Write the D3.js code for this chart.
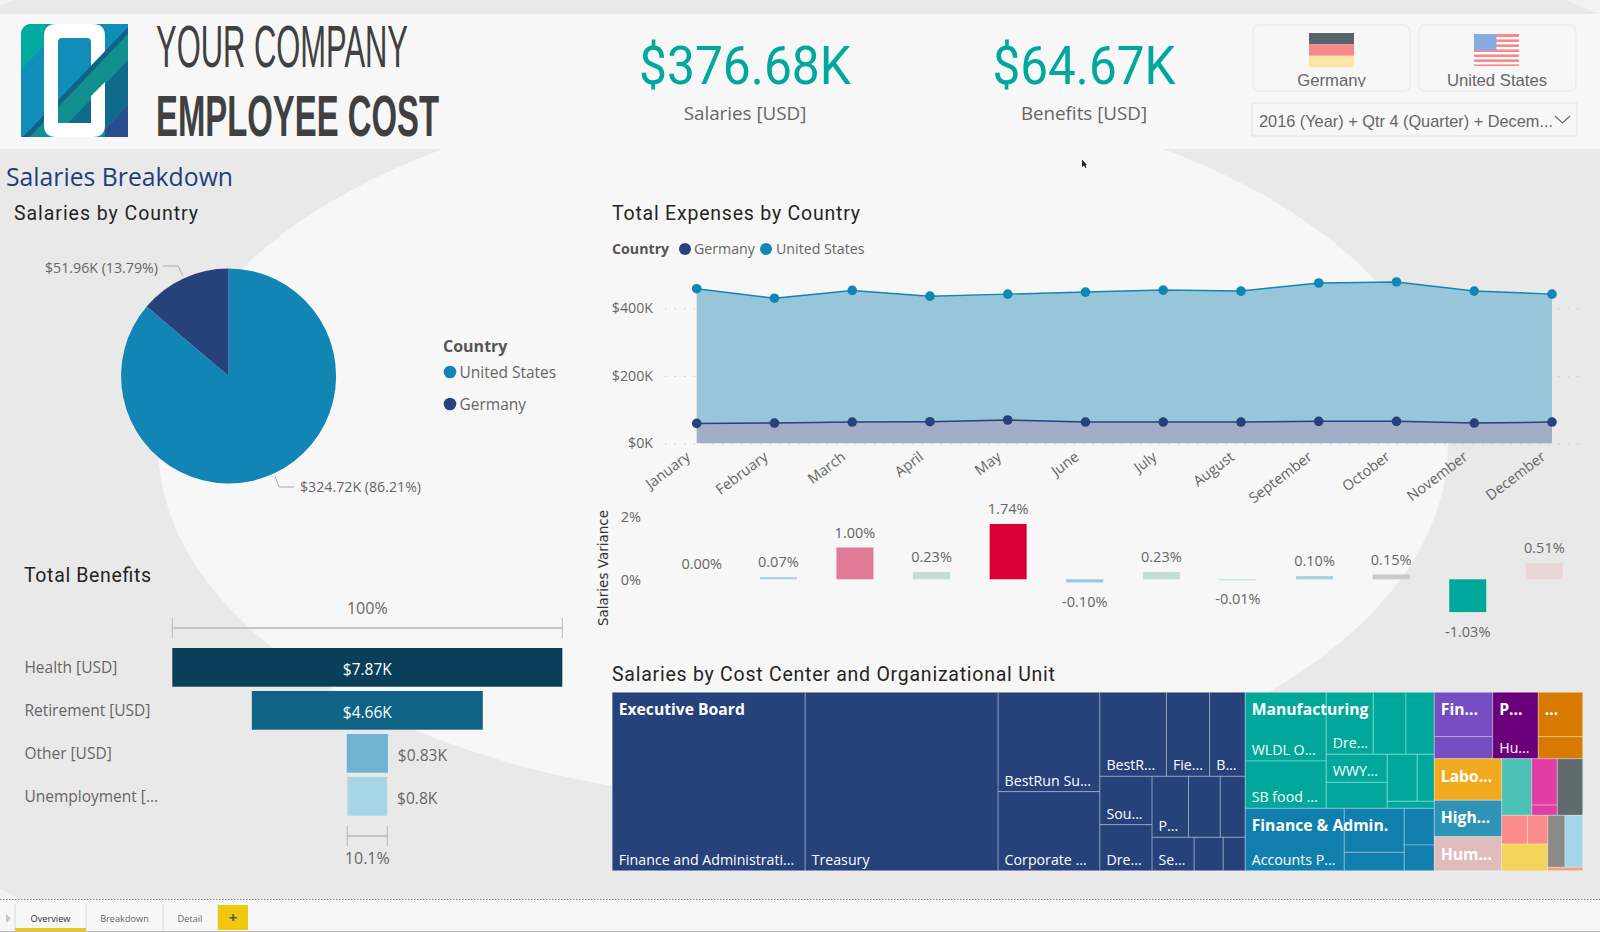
<!DOCTYPE html>
<html>
<head>
<meta charset="utf-8">
<title>Employee Cost</title>
<script src="https://d3js.org/d3.v7.min.js"></script>
<style>
  html, body { margin: 0; padding: 0; background: #e9e9e9; overflow: hidden; }
  svg { display: block; }
  text { font-family: "Open Sans", sans-serif; }
</style>
</head>
<body>
<div id="canvas"></div>
<script>
// ---- data ----
var months = ["January", "February", "March", "April", "May", "June", "July", "August", "September", "October", "November", "December"];
var unitedStatesExpenses = [458, 430, 453, 436, 442, 448, 454, 451, 475, 478, 451, 442];
var germanyExpenses = [59, 60, 63, 64, 69, 63, 63, 63, 65, 65, 60, 63];
var expenseTicks = [0, 200, 400];

var salaryVariance = [0.00, 0.07, 1.00, 0.23, 1.74, -0.10, 0.23, -0.01, 0.10, 0.15, -1.03, 0.51];
var varianceColors = ["#a9d6e0", "#a9d6e0", "#e17a97", "#c6dcd6", "#d90035", "#98c8de", "#c4dcd6", "#b8d8e0", "#a6d3dc", "#c9c9c9", "#00a89c", "#e8d5d5"];
var varianceTicks = [0, 2];

var pieCountries = ["United States", "Germany"];
var pieSalaries = [324.72, 51.96];
var pieLabels = ["$324.72K (86.21%)", "$51.96K (13.79%)"];

var benefitNames = ["Health [USD]", "Retirement [USD]", "Other [USD]", "Unemployment [..."];
var benefitValues = [7.87, 4.66, 0.83, 0.80];
var benefitLabels = ["$7.87K", "$4.66K", "$0.83K", "$0.8K"];
var benefitColors = ["#0a3f5a", "#0f6485", "#6fb2d2", "#a7d5e8"];

// treemap values in $K, one set per organizational unit
var execNames = ["Finance and Administrati...", "Treasury", "BestRun Su...", "Corporate ...", "BestR...", "Fie...", "B...", "Sou...", "Dre...", "P...", "", "", "Se...", "", ""];
var execValues = [74.9, 74.9, 22.0, 17.5, 12.16, 7.91, 6.49, 5.50, 5.22, 4.83, 4.22, 3.31, 3.06, 2.11, 1.60];
var manuNames = ["WLDL O...", "SB food ...", "Dre...", "", "", "WWY...", "", "", "", ""];
var manuValues = [12.11, 8.34, 6.34, 4.41, 3.82, 3.72, 3.45, 3.07, 1.74, 0.72];
var finNames = ["Accounts P...", "", "", "", ""];
var finValues = [13.44, 5.74, 2.40, 2.40, 1.68];
var purpleValues = [5.64, 2.80];
var violetValues = [6.59];
var orangeValues = [4.29, 2.13];
var pinkValues = [2.58, 0.57];
var salmonValues = [1.60, 1.27];

// how each unit splits into rows and columns, h = side by side, v = stacked
var units = {
  exec: { name: "Executive Board", color: "#27417a", names: execNames, values: execValues,
    split: ["h", 0, 1, ["v", 2, 3], ["v", ["h", 4, 5, 6], ["h", ["v", 7, 8], ["v", ["h", 9, 10, 11], ["h", 12, 13, 14]]]]] },
  manu: { name: "Manufacturing", color: "#00a89c", names: manuNames, values: manuValues,
    split: ["h", ["v", 0, 1], ["v", ["h", 2, 3, 4], ["h", ["v", 5, 6], ["v", ["h", 7, 8], 9]]]] },
  fin: { name: "Finance & Admin.", color: "#117fae", names: finNames, values: finValues,
    split: ["h", 0, ["v", 1, 2], ["v", 3, 4]] },
  purple: { name: "Fin...", color: "#744ec2", names: ["", ""], values: purpleValues, split: ["v", 0, 1] },
  violet: { name: "P...", color: "#6b007b", names: ["Hu..."], values: violetValues, split: 0 },
  orange: { name: "...", color: "#d87a00", names: ["", ""], values: orangeValues, split: ["v", 0, 1] },
  labor: { name: "Labo...", color: "#f2ab1f", names: [""], values: [6.10], split: 0 },
  high: { name: "High...", color: "#2f93b6", names: [""], values: [5.34], split: 0 },
  hum: { name: "Hum...", color: "#e0bcbc", names: [""], values: [4.99], split: 0 },
  teal: { name: "", color: "#4cc2b6", names: [""], values: [3.69], split: 0 },
  pink: { name: "", color: "#e03ea5", names: ["", ""], values: pinkValues, split: ["v", 0, 1] },
  slate: { name: "", color: "#5f6b6d", names: [""], values: [3.13], split: 0 },
  salmon: { name: "", color: "#fb8b8b", names: ["", ""], values: salmonValues, split: ["h", 0, 1] },
  yellow: { name: "", color: "#f2d45a", names: [""], values: [2.67], split: 0 },
  grey: { name: "", color: "#8a8a8a", names: [""], values: [1.96], split: 0 },
  sky: { name: "", color: "#a5d5ea", names: [""], values: [2.00], split: 0 },
  peach: { name: "", color: "#f5a27a", names: [""], values: [0.26], split: 0 }
};

var usColor = "#1185b4";
var deColor = "#27417a";
var greyText = "#666666";

var width = 1600, height = 932;
var svg = d3.select("#canvas").append("svg").attr("width", width).attr("height", height);

function label(parent, x, y, str, opt) {
  opt = opt || {};
  var t = parent.append("text").attr("x", x).attr("y", y).text(str)
    .attr("font-size", opt.size || 15)
    .attr("fill", opt.fill || greyText)
    .attr("text-anchor", opt.anchor || "start");
  if (opt.family) t.style("font-family", opt.family);
  if (opt.weight) t.attr("font-weight", opt.weight);
  if (opt.fit) t.attr("textLength", opt.fit).attr("lengthAdjust", opt.adjust || "spacingAndGlyphs");
  return t;
}

// ---- page background ----
svg.append("rect").attr("width", width).attr("height", height).attr("fill", "#e9e9e9");
svg.append("ellipse").attr("cx", 803).attr("cy", 445).attr("rx", 645).attr("ry", 357).attr("fill", "#f7f7f7");
svg.append("rect").attr("y", 14).attr("width", width).attr("height", 135).attr("fill", "#f7f7f7");
svg.append("path").attr("d", "M0,0H14L0,5Z M1565,0H1600V14Z M0,889L20,899H0Z").attr("fill", "#f2f2f2");

// ---- logo ----
var logo = svg.append("g");
var defs = svg.append("defs");
defs.append("clipPath").attr("id", "logoClip").append("path")
  .attr("d", "M31,24H128V137H21V34A10,10 0 0 1 31,24Z");
// stripes stay off the white frame except where they cut through its right side
defs.append("clipPath").attr("id", "stripeClip").append("path")
  .attr("d", "M21,24H44V137H21Z M58,38H91V123H58Z M91,24H128V100L105,137V82L91,96Z M105,24H128V137H105Z");
defs.append("clipPath").attr("id", "buttonClip").append("rect")
  .attr("x", 1253).attr("y", 25).attr("width", 330).attr("height", 62);

var logoBody = logo.append("g").attr("clip-path", "url(#logoClip)");
logoBody.append("rect").attr("x", 21).attr("y", 24).attr("width", 107).attr("height", 113).attr("fill", "#118dba");
logoBody.append("path").attr("d", "M21,24H46V44L21,69Z").attr("fill", "#00ab9f");
logoBody.append("path").attr("fill", "#fff").attr("fill-rule", "evenodd")
  .attr("d", "M56,24H93Q105,24 105,36V125Q105,137 93,137H56Q44,137 44,125V36Q44,24 56,24Z M62,38Q58,38 58,42V119Q58,123 62,123H87Q91,123 91,119V42Q91,38 87,38Z");
var stripes = logoBody.append("g").attr("clip-path", "url(#stripeClip)");
stripes.append("path").attr("d", "M128,27V36L21,148V139Z").attr("fill", "#0f6485");
stripes.append("path").attr("d", "M128,34V60L21,172V146Z").attr("fill", "#11908f");
stripes.append("path").attr("d", "M128,60V105L58,178V134Z").attr("fill", "#0f6a8c");
stripes.append("path").attr("d", "M128,105V137H98Z").attr("fill", "#2a4d8d");

label(svg, 156, 67, "YOUR COMPANY", { size: 59, fill: "#404040", family: "'Liberation Sans'", fit: 252 });
label(svg, 156, 136, "EMPLOYEE COST", { size: 58, fill: "#404040", weight: "bold", family: "'Liberation Sans'", fit: 283 });

// ---- KPI cards ----
label(svg, 745, 84, "$376.68K", { size: 54, fill: "#00a89c", anchor: "middle", family: "Roboto", fit: 212 });
label(svg, 745, 120, "Salaries [USD]", { size: 18.8, anchor: "middle" });
label(svg, 1084, 84, "$64.67K", { size: 54, fill: "#00a89c", anchor: "middle", family: "Roboto", fit: 183 });
label(svg, 1084, 120, "Benefits [USD]", { size: 18.8, anchor: "middle" });

// ---- slicers ----
var buttonX = [1253, 1419];
buttonX.forEach(function (x) {
  svg.append("rect").attr("x", x).attr("y", 25).attr("width", 157).attr("height", 66).attr("rx", 6)
    .attr("fill", "none").attr("stroke", "#ebebeb").attr("stroke-width", 1.3);
});
var deFlag = svg.append("g");
["#56646c", "#f98888", "#fbe6a5"].forEach(function (c, i) {
  deFlag.append("rect").attr("x", 1309).attr("y", 33 + i * 11.4).attr("width", 45).attr("height", 11.4).attr("fill", c);
});
var usFlag = svg.append("g");
usFlag.append("rect").attr("x", 1474).attr("y", 34).attr("width", 45).attr("height", 32).attr("fill", "#f98888");
d3.range(3, 32, 5).forEach(function (y) {
  usFlag.append("rect").attr("x", 1474).attr("y", 34 + y).attr("width", 45).attr("height", 2.4).attr("fill", "#fff");
});
usFlag.append("rect").attr("x", 1474).attr("y", 34).attr("width", 22.5).attr("height", 16.5).attr("fill", "#86ace4");

var buttonText = svg.append("g").attr("clip-path", "url(#buttonClip)");
label(buttonText, 1331.5, 86, "Germany", { size: 16.7, anchor: "middle", family: "'Liberation Sans'" });
label(buttonText, 1497, 86, "United States", { size: 16.7, anchor: "middle", family: "'Liberation Sans'" });

svg.append("rect").attr("x", 1252).attr("y", 103).attr("width", 325).attr("height", 33)
  .attr("fill", "none").attr("stroke", "#e3e8ea").attr("stroke-width", 1.2);
label(svg, 1259, 127, "2016 (Year) + Qtr 4 (Quarter) + Decem...", { size: 17, family: "'Liberation Sans'", fit: 294 });
svg.append("path").attr("d", "M1555,116L1562.5,123L1570,116").attr("fill", "none").attr("stroke", "#666").attr("stroke-width", 1.1);
svg.append("path").attr("d", "M1082,159.5V167L1084,165.5L1085.5,168L1086.5,167.5L1085.5,165H1087Z").attr("fill", "#222");

// ---- section titles, spaced out to the DIN widths of the report ----
var titleFont = "Roboto";
label(svg, 6, 186, "Salaries Breakdown", { size: 26, fill: "#1f3f7c", fit: 227 });
label(svg, 14, 219.5, "Salaries by Country", { size: 19.5, fill: "#252423", family: titleFont, fit: 184, adjust: "spacing" });
label(svg, 612, 219.5, "Total Expenses by Country", { size: 19.5, fill: "#252423", family: titleFont, fit: 248, adjust: "spacing" });
label(svg, 24, 581.5, "Total Benefits", { size: 19.5, fill: "#252423", family: titleFont, fit: 127, adjust: "spacing" });
label(svg, 612, 681, "Salaries by Cost Center and Organizational Unit", { size: 19.5, fill: "#252423", family: titleFont, fit: 443, adjust: "spacing" });

// ---- pie ----
var pieG = svg.append("g").attr("transform", "translate(228.6,376)");
var pie = d3.pie().sort(null).value(function (d) { return d; });
var arc = d3.arc().innerRadius(0).outerRadius(107.5);
pieG.selectAll("path").data(pie(pieSalaries)).enter().append("path")
  .attr("d", arc)
  .attr("fill", function (d, i) { return i === 0 ? usColor : deColor; });

var leaderLines = [[[275, 476], [279, 487], [294, 487]], [[163, 266], [178, 266], [183, 276]]];
var line2 = d3.line();
svg.selectAll(".leader").data(leaderLines).enter().append("path").attr("class", "leader")
  .attr("d", line2).attr("fill", "none").attr("stroke", "#aaa");
label(svg, 300, 492, pieLabels[0], { size: 14.2 });
label(svg, 45, 273, pieLabels[1], { size: 14.2 });

label(svg, 443, 352, "Country", { size: 16, weight: "bold", fill: "#555" });
pieCountries.forEach(function (c, i) {
  var y = i === 0 ? 372 : 404;
  svg.append("circle").attr("cx", 450).attr("cy", y).attr("r", 6.3).attr("fill", i === 0 ? usColor : deColor);
  label(svg, 459.5, y + 6, c, { size: 15.5 });
});

// ---- funnel ----
var funnelCx = 367.3;
var funnelW = d3.scaleLinear().domain([0, d3.max(benefitValues)]).range([0, 390]);
var funnelY = d3.scaleBand().domain(benefitNames).range([648, 815.7]).paddingInner(0.1).paddingOuter(0).align(0);

function bracket(value, y, text, textY) {
  var w = funnelW(value), x0 = funnelCx - w / 2, x1 = funnelCx + w / 2;
  svg.append("path").attr("d", "M" + x0 + "," + y + "H" + x1).attr("stroke", "#c4c4c4").attr("stroke-width", 2).attr("fill", "none");
  [x0, x1].forEach(function (x) {
    svg.append("path").attr("d", "M" + x + "," + (y - 10) + "V" + (y + 10)).attr("stroke", "#b5b5b5").attr("fill", "none");
  });
  label(svg, funnelCx, textY, text, { size: 16, anchor: "middle" });
}
bracket(benefitValues[0], 628, "100%", 614);
bracket(benefitValues[3] * 1.013, 836, "10.1%", 864);

benefitNames.forEach(function (name, i) {
  var v = benefitValues[i], w = funnelW(v), y = funnelY(name), h = funnelY.bandwidth();
  svg.append("rect").attr("x", funnelCx - w / 2).attr("y", y).attr("width", w).attr("height", h).attr("fill", benefitColors[i]);
  label(svg, 24.4, y + h / 2 + 5.5, name, { size: 15.5 });
  if (i < 2) label(svg, funnelCx, y + h / 2 + 7.5, benefitLabels[i], { size: 15.5, fill: "#fff", anchor: "middle" });
  else label(svg, funnelCx + w / 2 + 10, y + h / 2 + 7.5, benefitLabels[i], { size: 15.5 });
});

// ---- area chart ----
var x = d3.scalePoint().domain(months).range([696.7, 1552]);
var y = d3.scaleLinear().domain([0, 400]).range([443.3, 308.3]);

label(svg, 612, 254, "Country", { size: 14.2, weight: "bold", fill: "#555" });
svg.append("circle").attr("cx", 685).attr("cy", 249).attr("r", 6).attr("fill", deColor);
label(svg, 694, 254, "Germany", { size: 14.2 });
svg.append("circle").attr("cx", 766).attr("cy", 249).attr("r", 6).attr("fill", usColor);
label(svg, 776, 254, "United States", { size: 14.2 });

var yAxis = svg.append("g").attr("transform", "translate(665,0)")
  .call(d3.axisLeft(y).tickValues(expenseTicks).tickSize(0).tickPadding(12).tickFormat(function (d) { return "$" + d + "K"; }));
yAxis.select(".domain").remove();
yAxis.selectAll("text").attr("font-size", 14.2).attr("fill", greyText);
yAxis.selectAll(".tick").append("line").attr("x2", 922).attr("stroke", "#b8b8b8").attr("stroke-opacity", 0.7).attr("stroke-dasharray", "1.5,8");

var areaUs = d3.area().x(function (d, i) { return x(months[i]); })
  .y0(function (d, i) { return y(germanyExpenses[i]); }).y1(function (d) { return y(d); });
var areaDe = d3.area().x(function (d, i) { return x(months[i]); }).y0(y(0)).y1(function (d) { return y(d); });
var lineFn = d3.line().x(function (d, i) { return x(months[i]); }).y(function (d) { return y(d); });

svg.append("path").datum(unitedStatesExpenses).attr("d", areaUs).attr("fill", "#98c5da");
svg.append("path").datum(germanyExpenses).attr("d", areaDe).attr("fill", "#a2adc7");
yAxis.raise();
[[unitedStatesExpenses, usColor], [germanyExpenses, deColor]].forEach(function (s) {
  svg.append("path").datum(s[0]).attr("d", lineFn).attr("fill", "none").attr("stroke", s[1]).attr("stroke-width", 1.5);
  svg.selectAll(null).data(s[0]).enter().append("circle")
    .attr("cx", function (d, i) { return x(months[i]); })
    .attr("cy", function (d) { return y(d); })
    .attr("r", 4.8).attr("fill", s[1]);
});

var xAxis = svg.append("g").attr("transform", "translate(0,443.3)")
  .call(d3.axisBottom(x).tickSize(0).tickPadding(0));
xAxis.select(".domain").remove();
xAxis.selectAll("text").attr("font-size", 14.5).attr("fill", greyText)
  .attr("text-anchor", "end").attr("dy", 0)
  .attr("transform", "translate(-6,15.5) rotate(-37)");

// ---- variance columns ----
var vx = d3.scaleBand().domain(months).range([663.5, 1582.6]).paddingInner(0.517).paddingOuter(0.258);
var vy = d3.scaleLinear().domain([0, 2]).range([579.3, 515.7]);

var vAxis = svg.append("g").attr("transform", "translate(647,1)")
  .call(d3.axisLeft(vy).tickValues(varianceTicks).tickSize(0).tickPadding(6).tickFormat(function (d) { return d + "%"; }));
vAxis.select(".domain").remove();
vAxis.selectAll("text").attr("font-size", 14.5).attr("fill", greyText);
label(svg, 0, 0, "Salaries Variance", { size: 13.5, fill: "#333", anchor: "middle", family: "'DejaVu Sans'" })
  .attr("transform", "translate(608,568) rotate(-90)");

salaryVariance.forEach(function (v, i) {
  var top = vy(Math.max(v, 0)), bottom = vy(Math.min(v, 0));
  if (v !== 0) {
    svg.append("rect").attr("x", vx(months[i])).attr("y", top).attr("width", vx.bandwidth())
      .attr("height", Math.max(bottom - top, 1)).attr("fill", varianceColors[i]);
  }
  var ly = v >= 0 ? top - 10 : bottom + 24.5;
  label(svg, vx(months[i]) + vx.bandwidth() / 2, ly, v.toFixed(2) + "%", { size: 14.5, anchor: "middle" });
});

// ---- treemap ----
function buildNode(split, unit) {
  if (typeof split === "number") {
    return { unit: unit, index: split, name: unit.names[split], value: unit.values[split] };
  }
  return { dir: split[0], children: split.slice(1).map(function (s) { return buildNode(s, unit); }) };
}
var layoutTree = { dir: "h", children: [
  buildNode(units.exec.split, units.exec),
  { dir: "v", children: [buildNode(units.manu.split, units.manu), buildNode(units.fin.split, units.fin)] },
  { dir: "v", children: [
    { dir: "h", children: [buildNode(units.purple.split, units.purple), buildNode(units.violet.split, units.violet), buildNode(units.orange.split, units.orange)] },
    { dir: "h", children: [
      { dir: "v", children: [buildNode(units.labor.split, units.labor), buildNode(units.high.split, units.high), buildNode(units.hum.split, units.hum)] },
      { dir: "v", children: [
        { dir: "h", children: [buildNode(units.teal.split, units.teal), buildNode(units.pink.split, units.pink), buildNode(units.slate.split, units.slate)] },
        { dir: "h", children: [
          { dir: "v", children: [buildNode(units.salmon.split, units.salmon), buildNode(units.yellow.split, units.yellow)] },
          { dir: "v", children: [
            { dir: "h", children: [buildNode(units.grey.split, units.grey), buildNode(units.sky.split, units.sky)] },
            buildNode(units.peach.split, units.peach)
          ] }
        ] }
      ] }
    ] }
  ] }
] };

var treeRoot = d3.hierarchy(layoutTree).sum(function (d) { return d.value || 0; });
d3.treemap().size([970.5, 178.4]).tile(function (node, x0, y0, x1, y1) {
  (node.data.dir === "h" ? d3.treemapDice : d3.treemapSlice)(node, x0, y0, x1, y1);
})(treeRoot);

var treeG = svg.append("g").attr("transform", "translate(612.2,692.3)");
var leaves = treeRoot.leaves();
treeG.selectAll("rect").data(leaves).enter().append("rect")
  .attr("x", function (d) { return d.x0; }).attr("y", function (d) { return d.y0; })
  .attr("width", function (d) { return d.x1 - d.x0; }).attr("height", function (d) { return d.y1 - d.y0; })
  .attr("fill", function (d) { return d.data.unit.color; })
  .attr("stroke", "#fff").attr("stroke-opacity", 0.3);

leaves.forEach(function (d) {
  if (d.data.name) label(treeG, d.x0 + 6.5, d.y1 - 6, d.data.name, { size: 14.2, fill: "#fff" });
  if (d.data.index === 0 && d.data.unit.name) {
    label(treeG, d.x0 + 6.5, d.y0 + 23, d.data.unit.name, { size: 15.7, fill: "#fff", weight: "bold" });
  }
});

// ---- page tabs ----
var tabBar = svg.append("g");
tabBar.append("rect").attr("y", 899).attr("width", width).attr("height", 33).attr("fill", "#f7f7f7");
tabBar.append("path").attr("d", "M0,899.5H1600").attr("stroke", "#777").attr("stroke-dasharray", "1.5,1.5");
tabBar.append("path").attr("d", "M0,931.5H1600").attr("stroke", "#bbb");
[15, 86, 163, 218].forEach(function (sx) {
  tabBar.append("path").attr("d", "M" + sx + ",904V930").attr("stroke", "#d6d6d6");
});
tabBar.append("path").attr("d", "M6,914L11,918.5L6,923Z").attr("fill", "#c8c8c8");
tabBar.append("rect").attr("x", 15).attr("y", 928).attr("width", 71).attr("height", 3).attr("fill", "#f2c80f");
label(tabBar, 50.5, 922, "Overview", { size: 9.2, fill: "#333", anchor: "middle" });
label(tabBar, 124.5, 922, "Breakdown", { size: 9.2, anchor: "middle" });
label(tabBar, 190, 922, "Detail", { size: 9.2, anchor: "middle" });
tabBar.append("rect").attr("x", 218).attr("y", 905).attr("width", 30).attr("height", 25).attr("fill", "#f2c80f");
label(tabBar, 233, 923, "+", { size: 15, fill: "#555", anchor: "middle", weight: "bold" });
</script>
</body>
</html>
